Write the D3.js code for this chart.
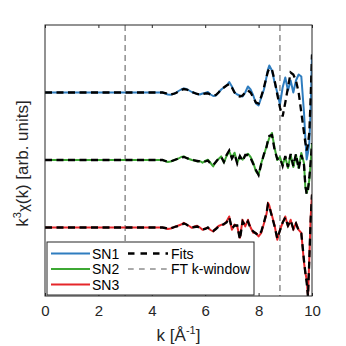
<!DOCTYPE html>
<html><head><meta charset="utf-8">
<script src="https://cdn.jsdelivr.net/npm/d3@7"></script>
<style>body{margin:0;background:#fff;} svg{display:block;font-family:"Liberation Sans",Arial,sans-serif;}</style>
</head><body>
<script>
// ---------- data ----------
const kValues = [0,4.4,4.5,4.6,4.7,4.8,4.9,5.0,5.1,5.2,5.3,5.4,5.5,5.6,5.7,5.8,5.9,6.0,6.1,6.2,6.3,6.4,6.5,6.6,6.7,6.8,6.9,7.0,7.1,7.2,7.3,7.4,7.5,7.6,7.7,7.8,7.9,8.0,8.1,8.2,8.3,8.35,8.4,8.5,8.6,8.7,8.8,8.9,9.0,9.1,9.2,9.3,9.4,9.5,9.6,9.7,9.75,9.8,9.85,9.9,9.95,10.0];
const sn1 = [0,0,-1,-2,-2.3,-1.5,-0.5,1.5,3,4,3.5,2,0.5,-0.5,-1.5,-2,-1,-0.5,0.6,-2,-3.5,-3,0,3,5,7,10.5,6,0,-2,-3,-4,0,6,3,-3,-11,-13,-5,3,16,23,27,22,10,0,-12,5,15,2,12,0,12,18,16,-20,-45,-67,-60,-50,-17,38];
const fit1 = [0,0,-0.5,-1.5,-2,-1.5,-0.5,1,2.5,3.5,3,2,0.5,-0.5,-1.5,-2,-1.5,-1,-1,-2,-3,-2.5,0,3,5,7,8.5,5,0,-3,-4,-3,0,2,0,-5,-10,-11,-4,5,16,21,24,23,12,-2,-15,-24,-10,5,20,18,12,0,-20,-40,-50,-58,-52,-40,-5,38];
const sn2 = [0,0,-1,-2,-1.5,-0.5,0.5,1.5,3,3.6,2,1,0,-0.5,-1.4,-1,-2.7,-1,0.3,-3,-6.4,-1.4,1,3.6,-2.7,4,8.6,2.3,7.3,-2.7,3.6,0.3,4,6.3,3,-2.7,-11.4,-14.7,-3,5,14,18,22,27,12,0,3,-5,3,-8,5,-7,5,-8,7,-3,-27,-33,-28,-20,-3,17];
const fit2 = [0,0,-1,-1.5,-1.5,-0.5,0.5,1.5,2.5,3,2,1,0.5,-0.5,-1,-1.5,-2,-1.5,-0.5,-3.5,-5,-2,1.5,3,-2,5,9.5,1.5,6,-3.5,4,-1,5,5,2,-4,-10,-15,-4,6,13,20,24,25,10,1,2,-6,4,-7,6,-6,6,-9,5,-5,-25,-34,-30,-18,-2,17];
const sn3 = [0,0,-0.5,-1.5,-1,0,1,2,3,4.7,3,1.5,-0.3,1,1.7,0,-2.3,-1,-0.3,-2.5,-4,-1,1.5,2.7,3,6,11,-2.3,3,1,-10.3,7.7,1,7.7,0,-5.3,-5.3,-9,-5.3,4,14,24.7,22,12,2,-12.3,-2.3,4.7,11,1,7.7,-2.3,4.7,-2.3,-5.3,-35,-45,-52,-69,-30,10,33];
const fit3 = [0,0,-0.5,-1,-1,0,1,1.5,2.5,4,3,1,0,0.5,1,-0.5,-2,-1.5,0,-3,-3.5,-1.5,1,2,3.5,5,10,-1,2,2,-12,6,2,6,-1,-4,-6,-8,-4,5,15,23,21,11,1,-11,-3,5,10,2,7,-1,4,-3,-6,-33,-45,-55,-69,-32,8,33];
const seriesNames = ["SN1","SN2","SN3"];
const offsets = [135, 67.5, 0];
const windowK = [3, 8.8];
const xTicks = [0,2,4,6,8,10];
const legendLabels = ["SN1","SN2","SN3","Fits","FT k-window"];

// ---------- layout ----------
const W = 346, H = 346;
const m = {left:45, right:34, top:25, bottom:50};
const colors = ["#2f7dbf","#3da834","#e5262a"];
const axisColor = "#262626";

const svg = d3.select("body").append("svg").attr("width",W).attr("height",H);
const x = d3.scaleLinear().domain([0,10]).range([m.left, W-m.right]);
const y = d3.scaleLinear().domain([-68.5, 202.5]).range([H-m.bottom, m.top]);

svg.append("clipPath").attr("id","clip").append("rect")
  .attr("x",m.left).attr("y",m.top).attr("width",W-m.left-m.right).attr("height",H-m.top-m.bottom);

const plot = svg.append("g").attr("clip-path","url(#clip)");

// FT window lines
plot.selectAll("line.win").data(windowK).join("line")
  .attr("x1",d=>x(d)).attr("x2",d=>x(d)).attr("y1",m.top).attr("y2",H-m.bottom)
  .attr("stroke","#555").attr("stroke-width",1).attr("stroke-dasharray","6,4");

const dataSets = [[sn1,fit1],[sn2,fit2],[sn3,fit3]];
dataSets.forEach(([d,f],i)=>{
  const line = d3.line().x((v,j)=>x(kValues[j])).y(v=>y(v+offsets[i]));
  plot.append("path").attr("d",line(d)).attr("fill","none")
    .attr("stroke",colors[i]).attr("stroke-width",2).attr("stroke-linejoin","round");
  plot.append("path").attr("d",line(f)).attr("fill","none")
    .attr("stroke","#000").attr("stroke-width",2.3).attr("stroke-dasharray","7,4.5");
});

// axes box
svg.append("rect").attr("x",m.left).attr("y",m.top)
  .attr("width",W-m.left-m.right).attr("height",H-m.top-m.bottom)
  .attr("fill","none").attr("stroke",axisColor).attr("stroke-width",1);

const xAxis = svg.append("g").attr("transform",`translate(0,${H-m.bottom})`)
  .call(d3.axisBottom(x).tickValues(xTicks).tickSizeInner(-3).tickSizeOuter(0).tickPadding(9).tickFormat(d3.format("d")));
xAxis.select(".domain").remove();
xAxis.selectAll("line").attr("stroke",axisColor);
xAxis.selectAll("text").attr("fill",axisColor).style("font-size","15px").style("font-family","Liberation Sans, Arial, sans-serif");

const xAxisTop = svg.append("g").attr("transform",`translate(0,${m.top})`)
  .call(d3.axisTop(x).tickValues(xTicks).tickSizeInner(-3).tickSizeOuter(0).tickFormat(""));
xAxisTop.select(".domain").remove();
xAxisTop.selectAll("line").attr("stroke",axisColor);

// axis labels
const xl = svg.append("text").attr("x",x(5)).attr("y",341).attr("text-anchor","middle")
  .attr("fill",axisColor).style("font-size","17px");
xl.append("tspan").text("k [Å");
xl.append("tspan").attr("dy",-7).style("font-size","11px").text("-1");
xl.append("tspan").attr("dy",7).text("]");

const yl = svg.append("text").attr("transform",`translate(28,${(m.top+H-m.bottom)/2+3}) rotate(-90)`)
  .attr("text-anchor","middle").attr("fill",axisColor).style("font-size","17px");
yl.append("tspan").text("k");
yl.append("tspan").attr("dy",-7).style("font-size","11px").text("3");
yl.append("tspan").attr("dy",7).style("font-size","15px").text("χ");
yl.append("tspan").text("(k) [arb. units]");

// legend
const lg = svg.append("g");
lg.append("rect").attr("x",47).attr("y",242).attr("width",207).attr("height",53)
  .attr("fill","#fff").attr("stroke",axisColor).attr("stroke-width",1);
const rowsY = [253.5, 269, 284.5];
seriesNames.forEach((n,i)=>{
  lg.append("line").attr("x1",51).attr("x2",90).attr("y1",rowsY[i]).attr("y2",rowsY[i])
    .attr("stroke",colors[i]).attr("stroke-width",2);
  lg.append("text").attr("x",92).attr("y",rowsY[i]+5).attr("fill","#000").style("font-size","14px").text(legendLabels[i]);
});
lg.append("line").attr("x1",128).attr("x2",168).attr("y1",rowsY[0]).attr("y2",rowsY[0])
  .attr("stroke","#000").attr("stroke-width",2.3).attr("stroke-dasharray","6.5,6");
lg.append("text").attr("x",171).attr("y",rowsY[0]+5).attr("fill","#000").style("font-size","14px").text(legendLabels[3]);
lg.append("line").attr("x1",128).attr("x2",168).attr("y1",rowsY[1]).attr("y2",rowsY[1])
  .attr("stroke","#555").attr("stroke-width",1).attr("stroke-dasharray","5.7,5.3");
lg.append("text").attr("x",171).attr("y",rowsY[1]+5).attr("fill","#000").style("font-size","14px").text(legendLabels[4]);
</script>
</body></html>
